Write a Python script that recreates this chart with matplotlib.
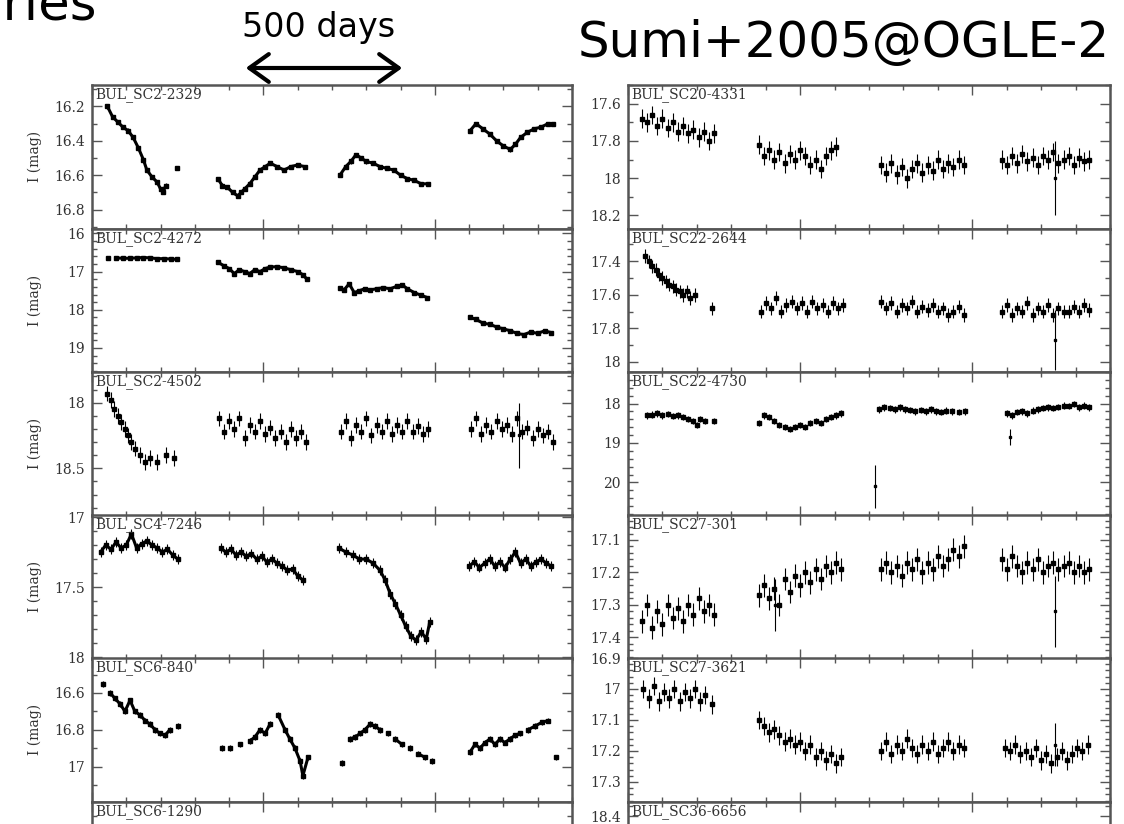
import matplotlib
matplotlib.use("Agg")
import numpy as np
import matplotlib.pyplot as plt
from matplotlib.patches import FancyArrowPatch
from matplotlib.ticker import MultipleLocator, FixedLocator, FormatStrFormatter

# ---- light curves (t = JD-2450000, I mag) ----
sc2_2329_t = [545, 560, 575, 590, 605, 620, 635, 650, 660, 675, 690, 700, 707, 715, 748,
              867, 880, 895, 910, 925, 935, 945, 960, 975, 990, 1005, 1020, 1040, 1060, 1080, 1100, 1120,
              1223, 1240, 1255, 1270, 1285, 1300, 1320, 1340, 1360, 1380, 1400, 1420, 1440, 1460, 1480,
              1603, 1620, 1640, 1660, 1680, 1700, 1720, 1735, 1750, 1770, 1790, 1810, 1830, 1845]
sc2_2329_m = [16.20, 16.26, 16.29, 16.32, 16.34, 16.38, 16.44, 16.51, 16.57, 16.61, 16.64, 16.68, 16.70, 16.66, 16.56,
              16.62, 16.66, 16.67, 16.70, 16.72, 16.70, 16.68, 16.65, 16.61, 16.57, 16.55, 16.53, 16.55, 16.57, 16.55, 16.54, 16.55,
              16.60, 16.55, 16.52, 16.48, 16.50, 16.52, 16.53, 16.55, 16.56, 16.57, 16.60, 16.62, 16.63, 16.65, 16.65,
              16.34, 16.30, 16.33, 16.36, 16.40, 16.43, 16.45, 16.42, 16.38, 16.35, 16.33, 16.32, 16.30, 16.30]

sc2_4272_t = [548, 570, 590, 610, 630, 650, 670, 690, 710, 730, 748,
              867, 885, 900, 915, 930, 945, 960, 975, 990, 1005, 1020, 1040, 1060, 1080, 1100, 1115, 1127,
              1223, 1235, 1250, 1265, 1280, 1295, 1310, 1330, 1350, 1370, 1390, 1405, 1420, 1440, 1460, 1478,
              1603, 1620, 1640, 1660, 1680, 1700, 1720, 1740, 1760, 1780, 1800, 1820, 1840]
sc2_4272_m = [16.64, 16.64, 16.65, 16.65, 16.64, 16.63, 16.64, 16.66, 16.66, 16.67, 16.68,
              16.75, 16.85, 16.92, 17.05, 16.95, 17.00, 17.05, 16.95, 17.00, 16.92, 16.88, 16.87, 16.90, 16.95, 17.00, 17.08, 17.20,
              17.42, 17.48, 17.32, 17.55, 17.50, 17.45, 17.48, 17.45, 17.42, 17.45, 17.38, 17.35, 17.45, 17.55, 17.62, 17.68,
              18.20, 18.25, 18.35, 18.38, 18.45, 18.50, 18.55, 18.62, 18.65, 18.58, 18.62, 18.55, 18.60]

sc2_4502_t = [545, 555, 565, 575, 585, 595, 605, 615, 625, 640, 655, 670, 690, 715, 740,
              870, 885, 900, 915, 930, 945, 960, 975, 990, 1005, 1020, 1035, 1050, 1065, 1080, 1095, 1110, 1125,
              1225, 1240, 1255, 1270, 1285, 1300, 1315, 1330, 1345, 1360, 1375, 1390, 1405, 1420, 1435, 1450, 1465, 1480,
              1605, 1620, 1635, 1650, 1665, 1680, 1695, 1710, 1725, 1740, 1755, 1770, 1785, 1800, 1815, 1830, 1845]
sc2_4502_m = [17.93, 17.98, 18.05, 18.10, 18.15, 18.20, 18.25, 18.30, 18.35, 18.40, 18.45, 18.42, 18.45, 18.40, 18.42,
              18.12, 18.22, 18.14, 18.20, 18.12, 18.27, 18.17, 18.22, 18.14, 18.24, 18.19, 18.27, 18.22, 18.30, 18.20, 18.27, 18.22, 18.30,
              18.22, 18.14, 18.27, 18.17, 18.22, 18.12, 18.25, 18.17, 18.22, 18.14, 18.24, 18.17, 18.22, 18.14, 18.22, 18.18, 18.24, 18.20,
              18.20, 18.12, 18.24, 18.17, 18.22, 18.14, 18.20, 18.17, 18.24, 18.12, 18.22, 18.19, 18.27, 18.20, 18.25, 18.22, 18.30]
sc2_4502_out = [(1745, 18.25, 0.25)]

sc4_7246_t = [525, 540, 555, 570, 585, 600, 615, 630, 645, 660, 675, 690, 705, 720, 735, 750,
              875, 890, 905, 920, 935, 950, 965, 980, 995, 1010, 1025, 1040, 1055, 1070, 1085, 1100, 1115,
              1220, 1240, 1260, 1280, 1300, 1320, 1340, 1355, 1370, 1385, 1400, 1415, 1430, 1445, 1460, 1475, 1485,
              1600, 1615, 1630, 1645, 1660, 1675, 1690, 1705, 1720, 1735, 1750, 1765, 1780, 1795, 1810, 1825, 1840]
sc4_7246_m = [17.25, 17.20, 17.23, 17.18, 17.22, 17.20, 17.12, 17.22, 17.19, 17.17, 17.20, 17.22, 17.25, 17.23, 17.27, 17.30,
              17.22, 17.25, 17.23, 17.27, 17.25, 17.28, 17.26, 17.30, 17.28, 17.32, 17.30, 17.33, 17.35, 17.38, 17.37, 17.42, 17.45,
              17.22, 17.25, 17.27, 17.30, 17.30, 17.33, 17.38, 17.45, 17.55, 17.62, 17.70, 17.78, 17.85, 17.88, 17.82, 17.87, 17.75,
              17.35, 17.32, 17.36, 17.33, 17.30, 17.35, 17.32, 17.36, 17.30, 17.25, 17.33, 17.30, 17.35, 17.32, 17.30, 17.33, 17.35]

sc6_840_t = [532, 553, 567, 582, 596, 611, 625, 640, 655, 669, 684, 698, 713, 727, 751,
             879, 903, 932, 961, 975, 990, 1005, 1019, 1043, 1063, 1077, 1092, 1107, 1115, 1130,
             1229, 1253, 1267, 1282, 1296, 1311, 1325, 1340, 1363, 1384, 1404, 1427, 1451, 1471, 1492,
             1603, 1617, 1632, 1646, 1661, 1675, 1690, 1704, 1719, 1734, 1748, 1772, 1792, 1812, 1830, 1853]
sc6_840_m = [16.55, 16.60, 16.63, 16.66, 16.70, 16.64, 16.70, 16.72, 16.75, 16.77, 16.80, 16.82, 16.83, 16.80, 16.78,
             16.90, 16.90, 16.88, 16.86, 16.84, 16.80, 16.82, 16.77, 16.72, 16.80, 16.85, 16.90, 16.97, 17.05, 16.95,
             16.98, 16.85, 16.84, 16.82, 16.80, 16.77, 16.78, 16.80, 16.82, 16.85, 16.88, 16.90, 16.93, 16.95, 16.97,
             16.92, 16.88, 16.90, 16.87, 16.85, 16.88, 16.85, 16.87, 16.85, 16.83, 16.82, 16.80, 16.78, 16.76, 16.75, 16.95]

sc20_4331_t = [540, 555, 570, 585, 600, 615, 630, 645, 660, 675, 690, 705, 720, 735, 750,
               880, 895, 910, 925, 940, 955, 970, 985, 1000, 1015, 1030, 1045, 1060, 1075, 1090, 1105,
               1235, 1250, 1265, 1280, 1295, 1310, 1325, 1340, 1355, 1370, 1385, 1400, 1415, 1430, 1445, 1460, 1475,
               1585, 1600, 1615, 1630, 1645, 1660, 1675, 1690, 1705, 1720, 1735, 1750, 1765, 1780, 1795, 1810, 1825, 1840]
sc20_4331_m = [17.68, 17.70, 17.66, 17.72, 17.68, 17.73, 17.70, 17.75, 17.72, 17.76, 17.74, 17.78, 17.75, 17.80, 17.76,
               17.82, 17.88, 17.85, 17.90, 17.86, 17.92, 17.87, 17.90, 17.85, 17.88, 17.93, 17.90, 17.95, 17.88, 17.85, 17.83,
               17.93, 17.97, 17.92, 17.98, 17.94, 18.00, 17.95, 17.92, 17.97, 17.93, 17.96, 17.90, 17.95, 17.92, 17.94, 17.90, 17.93,
               17.90, 17.93, 17.88, 17.92, 17.87, 17.91, 17.89, 17.93, 17.88, 17.90, 17.86, 17.92, 17.90, 17.88, 17.93, 17.89, 17.91, 17.90]
sc20_4331_out = [(1740, 18.00, 0.20)]

sc22_2644_t = [550, 560, 570, 580, 590, 600, 610, 620, 630, 640, 650, 660, 670, 680, 695, 745,
               885, 900, 915, 930, 945, 960, 975, 990, 1005, 1020, 1035, 1050, 1065, 1080, 1095, 1110, 1125,
               1235, 1250, 1265, 1280, 1295, 1310, 1325, 1340, 1355, 1370, 1385, 1400, 1415, 1430, 1445, 1460, 1475,
               1585, 1600, 1615, 1630, 1645, 1660, 1675, 1690, 1705, 1720, 1735, 1750, 1765, 1780, 1795, 1810, 1825, 1840]
sc22_2644_m = [17.37, 17.40, 17.43, 17.45, 17.48, 17.50, 17.52, 17.54, 17.55, 17.57, 17.58, 17.60, 17.58, 17.62, 17.60, 17.68,
               17.70, 17.65, 17.68, 17.62, 17.70, 17.66, 17.64, 17.68, 17.65, 17.70, 17.64, 17.68, 17.66, 17.70, 17.65, 17.68, 17.66,
               17.64, 17.68, 17.65, 17.70, 17.66, 17.68, 17.64, 17.70, 17.67, 17.69, 17.66, 17.70, 17.68, 17.72, 17.70, 17.67, 17.72,
               17.70, 17.66, 17.72, 17.68, 17.70, 17.65, 17.72, 17.68, 17.70, 17.66, 17.72, 17.68, 17.70, 17.70, 17.67, 17.70, 17.66, 17.69]
sc22_2644_out = [(1740, 17.87, 0.18)]

sc22_4730_t = [555, 570, 585, 600, 615, 630, 645, 660, 675, 690, 700, 710, 725, 750,
               880, 895, 910, 925, 940, 955, 970, 985, 1000, 1015, 1030, 1045, 1060, 1075, 1090, 1105, 1120,
               1230, 1245, 1260, 1275, 1290, 1305, 1320, 1335, 1350, 1365, 1380, 1395, 1410, 1425, 1440, 1460, 1480,
               1600, 1615, 1630, 1645, 1660, 1675, 1690, 1705, 1720, 1735, 1750, 1765, 1780, 1795, 1810, 1825, 1840]
sc22_4730_m = [18.30, 18.28, 18.25, 18.30, 18.27, 18.32, 18.30, 18.35, 18.40, 18.45, 18.55, 18.40, 18.45, 18.45,
               18.50, 18.30, 18.35, 18.45, 18.55, 18.60, 18.65, 18.60, 18.55, 18.60, 18.50, 18.45, 18.50, 18.40, 18.35, 18.30, 18.25,
               18.15, 18.10, 18.12, 18.15, 18.10, 18.15, 18.17, 18.20, 18.17, 18.20, 18.15, 18.20, 18.22, 18.18, 18.20, 18.22, 18.20,
               18.25, 18.30, 18.22, 18.20, 18.25, 18.18, 18.15, 18.12, 18.10, 18.12, 18.08, 18.05, 18.07, 18.02, 18.10, 18.05, 18.10]
sc22_4730_out = [(1217, 20.10, 0.55), (1610, 18.85, 0.20)]

sc27_301_t = [540, 555, 570, 585, 600, 615, 630, 645, 660, 675, 690, 705, 720, 735, 750,
              880, 895, 910, 925, 940, 955, 970, 985, 1000, 1015, 1030, 1045, 1060, 1075, 1090, 1105, 1120,
              1235, 1250, 1265, 1280, 1295, 1310, 1325, 1340, 1355, 1370, 1385, 1400, 1415, 1430, 1445, 1460, 1475,
              1585, 1600, 1615, 1630, 1645, 1660, 1675, 1690, 1705, 1720, 1735, 1750, 1765, 1780, 1795, 1810, 1825, 1840]
sc27_301_m = [17.35, 17.30, 17.37, 17.32, 17.36, 17.30, 17.34, 17.31, 17.35, 17.30, 17.33, 17.28, 17.32, 17.30, 17.33,
              17.27, 17.24, 17.28, 17.25, 17.30, 17.22, 17.26, 17.21, 17.24, 17.20, 17.23, 17.19, 17.22, 17.18, 17.20, 17.17, 17.19,
              17.19, 17.17, 17.20, 17.18, 17.21, 17.17, 17.19, 17.16, 17.20, 17.17, 17.19, 17.15, 17.18, 17.16, 17.13, 17.15, 17.12,
              17.16, 17.19, 17.15, 17.18, 17.20, 17.17, 17.19, 17.16, 17.20, 17.18, 17.17, 17.19, 17.18, 17.17, 17.20, 17.18, 17.20, 17.19]
sc27_301_out = [(1740, 17.32, 0.11), (927, 17.30, 0.08)]

sc27_3621_t = [545, 560, 575, 590, 605, 620, 635, 650, 665, 680, 695, 710, 725, 745,
               880, 895, 910, 925, 940, 955, 970, 985, 1000, 1015, 1030, 1045, 1060, 1075, 1090, 1105, 1120,
               1235, 1250, 1265, 1280, 1295, 1310, 1325, 1340, 1355, 1370, 1385, 1400, 1415, 1430, 1445, 1460, 1475,
               1595, 1610, 1625, 1640, 1655, 1670, 1685, 1700, 1715, 1730, 1745, 1760, 1775, 1790, 1805, 1820, 1835]
sc27_3621_m = [17.00, 17.03, 16.99, 17.04, 17.01, 17.03, 17.00, 17.04, 17.01, 17.03, 17.00, 17.04, 17.02, 17.05,
               17.10, 17.12, 17.14, 17.13, 17.15, 17.17, 17.16, 17.18, 17.17, 17.20, 17.18, 17.22, 17.20, 17.23, 17.21, 17.24, 17.22,
               17.20, 17.17, 17.21, 17.18, 17.20, 17.16, 17.19, 17.21, 17.18, 17.20, 17.17, 17.21, 17.19, 17.17, 17.20, 17.18, 17.19,
               17.19, 17.20, 17.18, 17.21, 17.20, 17.22, 17.19, 17.23, 17.21, 17.24, 17.22, 17.20, 17.23, 17.21, 17.19, 17.20, 17.18]
sc27_3621_out = [(1740, 17.18, 0.07)]

# ---- layout (pixels of the 1124x824 slide) ----
W, H = 1124, 824
ROW_TOP = [85, 228.5, 372, 515, 658, 801.5]
ROW_H = 143.5
COLS = [(92, 480), (628, 482)]
SERIF = "DejaVu Serif"
EDGE = "#555555"

fig = plt.figure(figsize=(W / 100, H / 100), dpi=100)
fig.patch.set_facecolor("white")


def make_ax(col, row):
    x0, w = COLS[col]
    top = ROW_TOP[row]
    return fig.add_axes([x0 / W, 1 - (top + ROW_H) / H, w / W, ROW_H / H])


def draw(col, row, name, t, m, err, ylim, yticks, minor, out=(), ms=2.8, joined=False):
    ax = make_ax(col, row)
    if len(t):
        ax.errorbar(t, m, yerr=err, fmt="s", ms=ms, color="k", mec="k",
                    elinewidth=0.8, capsize=0)
        if joined:
            # connect densely sampled stretches so the band reads as continuous
            t_arr, m_arr = np.asarray(t, float), np.asarray(m, float)
            cuts = np.where(np.diff(t_arr) > 20)[0] + 1
            for ts, ms_ in zip(np.split(t_arr, cuts), np.split(m_arr, cuts)):
                ax.plot(ts, ms_, color="k", lw=2.2, solid_capstyle="round")
    for ot, om, oe in out:
        ax.errorbar([ot], [om], yerr=[oe], fmt="s", ms=2, color="k",
                    elinewidth=0.8, capsize=0)
    ax.set_xlim(500, 1900)
    ax.set_ylim(ylim[1], ylim[0])
    ax.xaxis.set_major_locator(MultipleLocator(500))
    ax.xaxis.set_minor_locator(MultipleLocator(100))
    ax.yaxis.set_major_locator(FixedLocator(yticks))
    ax.yaxis.set_minor_locator(MultipleLocator(minor))
    ax.yaxis.set_major_formatter(FormatStrFormatter("%g"))
    ax.tick_params(which="both", direction="in", top=True, right=True,
                   labelbottom=False, color=EDGE, width=1.0)
    ax.tick_params(which="major", length=7, labelsize=10, labelcolor="#333333", pad=5)
    ax.tick_params(which="minor", length=3.5)
    for lab in ax.get_yticklabels():
        lab.set_fontfamily(SERIF)
    for sp in ax.spines.values():
        sp.set_color(EDGE)
        sp.set_linewidth(1.8)
    ax.text(0.006, 0.985, name, transform=ax.transAxes, ha="left", va="top",
            fontsize=10, family=SERIF, color="#333333")
    if col == 0 and row < 5:
        ax.set_ylabel("I (mag)", family=SERIF, fontsize=10, color="#333333")
        ax.yaxis.set_label_coords(-0.105, 0.5)
    return ax


draw(0, 0, "BUL_SC2-2329", sc2_2329_t, sc2_2329_m, 0.012, (16.075, 16.91), [16.2, 16.4, 16.6, 16.8], 0.1,
     ms=3.2, joined=True)
draw(0, 1, "BUL_SC2-4272", sc2_4272_t, sc2_4272_m, 0.03, (15.87, 19.63), [16, 17, 18, 19], 0.2,
     ms=3.0, joined=True)
draw(0, 2, "BUL_SC2-4502", sc2_4502_t, sc2_4502_m, 0.06, (17.766, 18.86), [18, 18.5], 0.1,
     out=sc2_4502_out)
draw(0, 3, "BUL_SC4-7246", sc4_7246_t, sc4_7246_m, 0.035, (16.985, 18.01), [17, 17.5, 18], 0.1,
     ms=3.2, joined=True)
draw(0, 4, "BUL_SC6-840", sc6_840_t, sc6_840_m, 0.015, (16.41, 17.19), [16.6, 16.8, 17], 0.1,
     ms=3.2, joined=True)
draw(0, 5, "BUL_SC6-1290", [], [], 0, (16.3, 17.3), [], 0.1)

draw(1, 0, "BUL_SC20-4331", sc20_4331_t, sc20_4331_m, 0.05, (17.50, 18.27), [17.6, 17.8, 18, 18.2], 0.1,
     out=sc20_4331_out)
draw(1, 1, "BUL_SC22-2644", sc22_2644_t, sc22_2644_m, 0.04, (17.205, 18.06), [17.4, 17.6, 17.8, 18], 0.1,
     out=sc22_2644_out)
draw(1, 2, "BUL_SC22-4730", sc22_4730_t, sc22_4730_m, 0.08, (17.2, 20.84), [18, 19, 20], 0.2,
     out=sc22_4730_out)
draw(1, 3, "BUL_SC27-301", sc27_301_t, sc27_301_m, 0.035, (17.023, 17.465), [17.1, 17.2, 17.3, 17.4], 0.02,
     out=sc27_301_out)
draw(1, 4, "BUL_SC27-3621", sc27_3621_t, sc27_3621_m, 0.03, (16.90, 17.363), [16.9, 17.0, 17.1, 17.2, 17.3], 0.02,
     out=sc27_3621_out)
draw(1, 5, "BUL_SC36-6656", [], [], 0, (18.33, 19.0), [18.4], 0.05)

# ---- slide annotations ----
fig.text(97 / W, 1 - 19 / H, "Time series", ha="right", va="baseline", fontsize=37)
fig.text(242 / W, 1 - 37 / H, "500 days", ha="left", va="baseline", fontsize=24)
fig.text(578 / W, 1 - 57 / H, "Sumi+2005@OGLE-2", ha="left", va="baseline", fontsize=36)
fig.add_artist(FancyArrowPatch((243 / W, 1 - 68 / H), (405 / W, 1 - 68 / H),
                               transform=fig.transFigure, arrowstyle="<->,head_length=0.7,head_width=0.5",
                               mutation_scale=20, lw=3, color="k"))

fig.savefig("out.png", dpi=100, facecolor="white")
